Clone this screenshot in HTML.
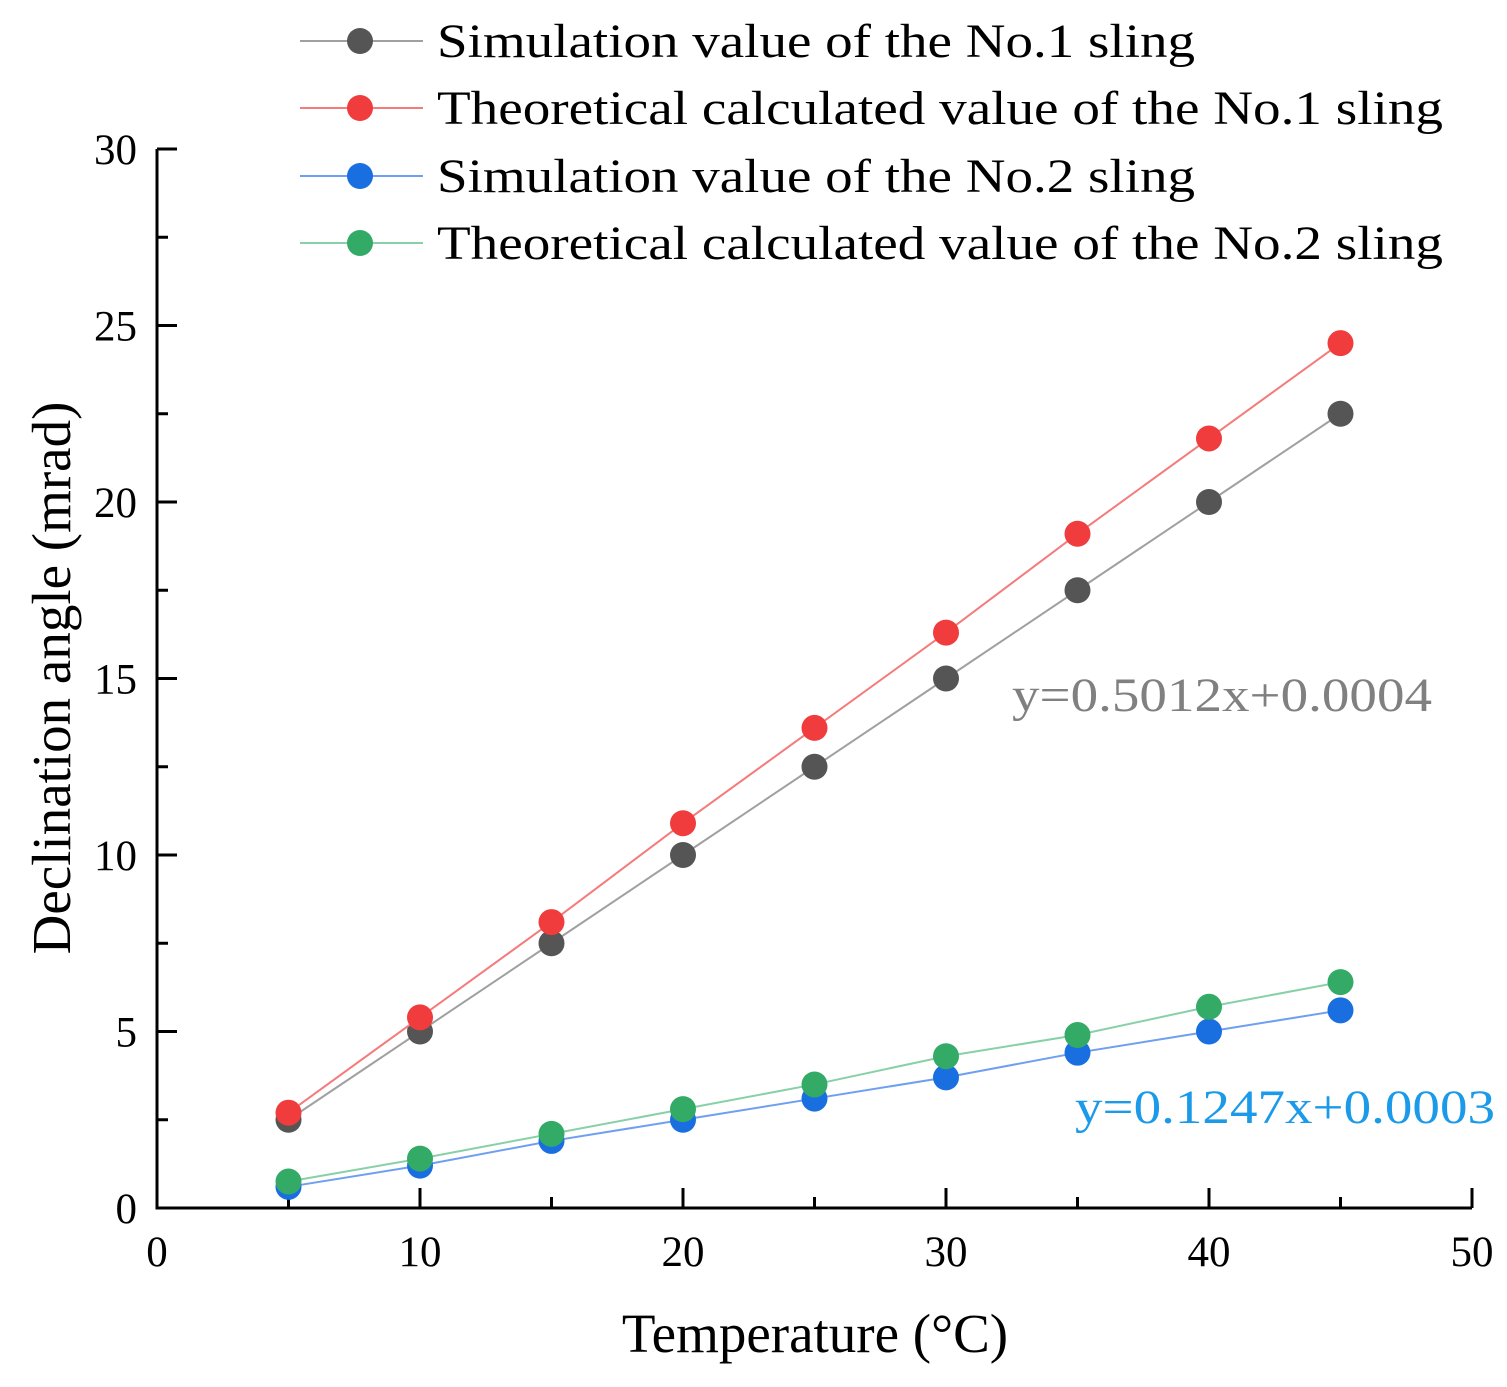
<!DOCTYPE html>
<html><head><meta charset="utf-8"><style>body{margin:0;background:#fff}svg{display:block;font-family:"Liberation Serif",serif}</style></head>
<body>
<svg id="chart" width="1507" height="1387" viewBox="0 0 1507 1387" xmlns="http://www.w3.org/2000/svg"></svg>
<script>
const categories=[5,10,15,20,25,30,35,40,45];
const simNo1=[2.5,5,7.5,10,12.5,15,17.5,20,22.5];
const theoNo1=[2.7,5.4,8.1,10.9,13.6,16.3,19.1,21.8,24.5];
const simNo2=[0.6,1.2,1.9,2.5,3.1,3.7,4.4,5.0,5.6];
const theoNo2=[0.75,1.4,2.1,2.8,3.5,4.3,4.9,5.7,6.4];
const xTicks=[0,10,20,30,40,50];
const yTicks=[0,5,10,15,20,25,30];
const seriesNames=["Simulation value of the No.1 sling","Theoretical calculated value of the No.1 sling","Simulation value of the No.2 sling","Theoretical calculated value of the No.2 sling"];
const NS="http://www.w3.org/2000/svg";
const svg=document.getElementById('chart');
const X0=157,X1=1472,Y0=1208,Y1=149;
const xs=v=>X0+(v-0)/50*(X1-X0);
const ys=v=>Y0-(v-0)/30*(Y0-Y1);
function mk(t,a,p){const e=document.createElementNS(NS,t);for(const k in a)e.setAttribute(k,a[k]);(p||svg).appendChild(e);return e;}
const ax=mk('g',{});


mk('path',{d:`M${X0} ${Y1}V${Y0}H${X1}`,stroke:'#000','stroke-width':3,fill:'none'},ax);
yTicks.forEach((t,i)=>{
  const y=ys(t);
  mk('line',{x1:X0,x2:X0+20,y1:y,y2:y,stroke:'#000','stroke-width':3},ax);
  if(i<yTicks.length-1){const ym=ys(t+2.5);mk('line',{x1:X0,x2:X0+11,y1:ym,y2:ym,stroke:'#000','stroke-width':3},ax);}
  const tx=mk('text',{x:X0-20,y:y+15,'font-size':43,'text-anchor':'end'},ax);tx.textContent=t;
  
  
});
xTicks.forEach((t,i)=>{
  const x=xs(t);
  mk('line',{x1:x,x2:x,y1:Y0,y2:Y0-20,stroke:'#000','stroke-width':3},ax);
  if(i<xTicks.length-1){const xm=xs(t+5);mk('line',{x1:xm,x2:xm,y1:Y0,y2:Y0-11,stroke:'#000','stroke-width':3},ax);}
  const tx=mk('text',{x:x,y:1266,'font-size':43,'text-anchor':'middle'},ax);tx.textContent=t;
  
  
});
const xt=mk('text',{x:815,y:1352,'font-size':55,'text-anchor':'middle'});xt.textContent='Temperature (°C)';


const yt=mk('text',{x:0,y:0,'font-size':55,'text-anchor':'middle',transform:'translate(70,678) rotate(-90)'});yt.textContent='Declination angle (mrad)';


const series=[[simNo1,'#555555','#a0a0a0'],[theoNo1,'#f03c3c','#f57a7a'],[simNo2,'#1a6fe0','#6f9ff0'],[theoNo2,'#33aa66','#88d0a8']];
[0,1,2,3].forEach(si=>{
  const [vals,c,lc]=series[si];
  const g=mk('g',{});
  
  
  mk('polyline',{points:vals.map((v,i)=>xs(categories[i])+','+ys(v)).join(' '),fill:'none',stroke:lc,'stroke-width':2},g);
  vals.forEach((v,i)=>{const p=mk('circle',{cx:xs(categories[i]),cy:ys(v),r:13,fill:c},g);
    
    });
});
const lg=mk('g',{});


const lyl=[41,108,176,243];
const tl=[758,1006,758,1006];
seriesNames.forEach((n,i)=>{
  const e=mk('g',{},lg);
  
  
  mk('line',{x1:300,x2:423,y1:lyl[i],y2:lyl[i],stroke:series[i][2],'stroke-width':2},e);
  mk('circle',{cx:360,cy:lyl[i],r:13,fill:series[i][1]},e);
  const t=mk('text',{x:437,y:lyl[i]+16,'font-size':48,textLength:tl[i],lengthAdjust:'spacingAndGlyphs'},e);t.textContent=n;
});
const e1=mk('text',{x:1012,y:711,'font-size':48,fill:'#808080',textLength:420,lengthAdjust:'spacingAndGlyphs'});e1.textContent='y=0.5012x+0.0004';


const e2=mk('text',{x:1075,y:1123,'font-size':48,fill:'#1a9ae8',textLength:420,lengthAdjust:'spacingAndGlyphs'});e2.textContent='y=0.1247x+0.0003';


</script>
</body></html>
